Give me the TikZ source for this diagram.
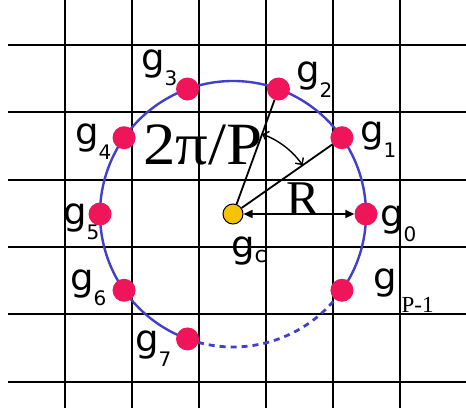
\documentclass[tikz,border=0pt]{standalone}
\usepackage{fontspec}
\setmainfont{Liberation Serif}
\newfontfamily\gfam{DejaVu Sans}
\usetikzlibrary{arrows.meta}
\definecolor{ringblue}{RGB}{64,64,204}
\definecolor{dotred}{RGB}{240,20,90}
\definecolor{centergold}{RGB}{245,195,0}
\newcommand\glab[1]{{\gfam\fontsize{37}{37}\selectfont g}\raisebox{-15pt}{\gfam\fontsize{20}{20}\selectfont #1}}
\begin{document}
\begin{tikzpicture}[x=1pt,y=1pt,
  gridline/.style={line width=1.4pt,black},
  ring/.style={line width=2.4pt,ringblue},
  reddot/.style={circle,fill=dotred,minimum size=23pt,inner sep=0pt},
  golddot/.style={circle,fill=centergold,draw=black,line width=1pt,minimum size=20pt,inner sep=0pt},
  glabel/.style={anchor=base west,inner sep=0pt},
  spoke/.style={line width=1.8pt,black}]
\useasboundingbox (0,0) rectangle (466,415);
\foreach \x in {65,132,199,266,333,400} \draw[gridline] (\x,415) -- (\x,7);
\foreach \y in {45,112,180,247,314,382} \draw[gridline] (8,415-\y) -- (466,415-\y);
\coordinate (C) at (233,201);
\draw[ring] ([shift={(-35:133)}]C) arc[start angle=-35,end angle=250,radius=133];
\draw[ring,line width=2.8pt,dash pattern=on 6pt off 5pt] ([shift={(250:133)}]C) arc[start angle=250,end angle=325,radius=133];
\node[reddot] (g0) at ([shift={(0:133)}]C) {};
\node[reddot] (g1) at ([shift={(35:133)}]C) {};
\node[reddot] (g2) at ([shift={(70:133)}]C) {};
\node[reddot] (g3) at ([shift={(110:133)}]C) {};
\node[reddot] (g4) at ([shift={(145:133)}]C) {};
\node[reddot] (g5) at ([shift={(180:133)}]C) {};
\node[reddot] (g6) at ([shift={(215:133)}]C) {};
\node[reddot] (g7) at ([shift={(250:133)}]C) {};
\node[reddot] (gp) at ([shift={(325:133)}]C) {};
\node[golddot] (gc) at (C) {};
\draw[spoke] (gc) -- (g2);
\draw[spoke] (gc) -- (g1);
\draw[line width=1.4pt,{Straight Barb[length=5pt]}-{Straight Barb[length=5pt]}] ([shift={(70:85)}]C) arc[start angle=70,end angle=35,radius=85];
\draw[line width=1.5pt,{Triangle[length=9pt,width=8pt]}-{Triangle[length=9pt,width=8pt]}] (gc) -- (g0);
\node[glabel] (l3) at (141,344) {\glab{3}};
\node[glabel] (l2) at (296,332) {\glab{2}};
\node[glabel] (l1) at (360,272) {\glab{1}};
\node[glabel] (l0) at (380,188) {\glab{0}};
\node[glabel] (l4) at (75,270) {\glab{4}};
\node[glabel] (l5) at (63,190) {\glab{5}};
\node[glabel] (l6) at (70,124) {\glab{6}};
\node[glabel] (l7) at (135,63) {\glab{7}};
\node[glabel] (lp) at (373,125) {{\gfam\fontsize{37}{37}\selectfont g}\kern5pt\raisebox{-23pt}{\fontsize{23}{23}\selectfont P-1}};
\node[glabel] (lc) at (231,157) {{\gfam\fontsize{37}{37}\selectfont g}\raisebox{-5pt}{\gfam\fontsize{22}{22}\selectfont c}};
\node[glabel,font=\fontsize{60}{60}\selectfont,xscale=1.08] (ang) at (143,250) {2π/P};
\node[glabel,font=\fontsize{50}{50}\selectfont] (rad) at (286,199) {R};
\end{tikzpicture}
\end{document}
